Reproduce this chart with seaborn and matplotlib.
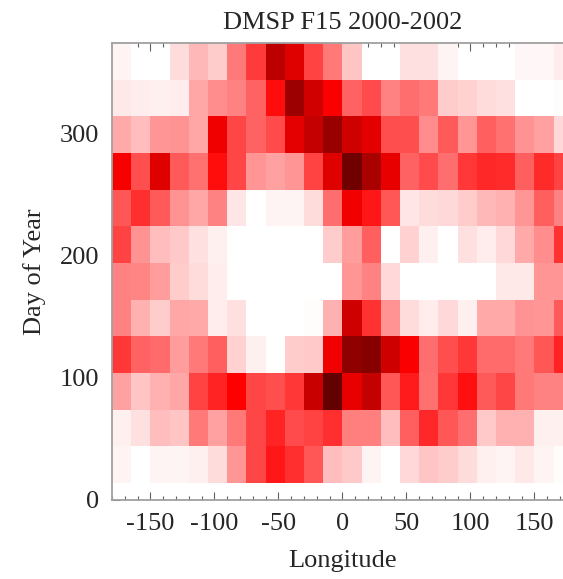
import numpy as np
import pandas as pd
import matplotlib
matplotlib.use("Agg")
import matplotlib.pyplot as plt
from matplotlib.colors import LinearSegmentedColormap
from matplotlib.ticker import MultipleLocator
import seaborn as sns

# ---- data ----
# longitude bin centres (15 deg bins) and day-of-year bin centres (30 day bins)
lon_centres = [-172.5, -157.5, -142.5, -127.5, -112.5, -97.5, -82.5, -67.5,
               -52.5, -37.5, -22.5, -7.5, 7.5, 22.5, 37.5, 52.5,
               67.5, 82.5, 97.5, 112.5, 127.5, 142.5, 157.5, 172.5]
day_centres = [29, 59, 89, 119, 149, 179, 209, 239, 269, 299, 329, 359]
lon_edges = [-180, -165, -150, -135, -120, -105, -90, -75, -60, -45, -30, -15, 0,
             15, 30, 45, 60, 75, 90, 105, 120, 135, 150, 165, 180]
day_edges = [14, 44, 74, 104, 134, 164, 194, 224, 254, 284, 314, 344, 374]

# relative intensity per longitude bin, one list per day bin
day_029 = [0.03, 0.00, 0.03, 0.03, 0.04, 0.09, 0.27, 0.47, 0.59, 0.53, 0.43, 0.17,
           0.14, 0.03, 0.00, 0.10, 0.15, 0.13, 0.09, 0.04, 0.03, 0.06, 0.03, 0.01]
day_059 = [0.04, 0.08, 0.17, 0.15, 0.34, 0.24, 0.34, 0.47, 0.56, 0.46, 0.48, 0.53,
           0.33, 0.33, 0.17, 0.41, 0.55, 0.43, 0.37, 0.14, 0.20, 0.20, 0.04, 0.04]
day_089 = [0.24, 0.15, 0.20, 0.23, 0.48, 0.56, 0.65, 0.47, 0.45, 0.51, 0.77, 1.00,
           0.70, 0.78, 0.43, 0.58, 0.36, 0.51, 0.61, 0.42, 0.47, 0.34, 0.32, 0.32]
day_119 = [0.51, 0.40, 0.38, 0.25, 0.34, 0.41, 0.12, 0.04, 0.00, 0.13, 0.14, 0.68,
           0.90, 0.92, 0.76, 0.66, 0.37, 0.45, 0.51, 0.38, 0.38, 0.34, 0.43, 0.56]
day_149 = [0.32, 0.20, 0.13, 0.23, 0.22, 0.05, 0.08, 0.00, 0.00, 0.00, 0.01, 0.20,
           0.76, 0.52, 0.28, 0.09, 0.05, 0.10, 0.04, 0.22, 0.22, 0.28, 0.27, 0.42]
day_179 = [0.32, 0.31, 0.25, 0.13, 0.09, 0.05, 0.00, 0.00, 0.00, 0.00, 0.00, 0.00,
           0.27, 0.32, 0.10, 0.00, 0.00, 0.00, 0.00, 0.00, 0.06, 0.06, 0.27, 0.27]
day_209 = [0.48, 0.28, 0.17, 0.14, 0.08, 0.04, 0.00, 0.00, 0.00, 0.00, 0.00, 0.13,
           0.25, 0.41, 0.00, 0.12, 0.04, 0.00, 0.08, 0.05, 0.10, 0.22, 0.29, 0.52]
day_239 = [0.43, 0.53, 0.42, 0.28, 0.23, 0.32, 0.07, 0.00, 0.03, 0.03, 0.09, 0.37,
           0.68, 0.59, 0.43, 0.07, 0.09, 0.10, 0.13, 0.18, 0.20, 0.27, 0.41, 0.32]
day_269 = [0.67, 0.45, 0.72, 0.42, 0.36, 0.62, 0.47, 0.27, 0.24, 0.27, 0.48, 0.72,
           0.97, 0.84, 0.70, 0.40, 0.46, 0.37, 0.51, 0.55, 0.54, 0.41, 0.54, 0.48]
day_299 = [0.22, 0.17, 0.27, 0.28, 0.23, 0.68, 0.47, 0.40, 0.46, 0.71, 0.78, 0.88,
           0.76, 0.71, 0.45, 0.45, 0.29, 0.42, 0.27, 0.41, 0.36, 0.28, 0.24, 0.10]
day_329 = [0.06, 0.05, 0.04, 0.05, 0.23, 0.29, 0.32, 0.40, 0.62, 0.87, 0.75, 0.66,
           0.40, 0.46, 0.32, 0.37, 0.34, 0.13, 0.12, 0.09, 0.08, 0.00, 0.00, 0.01]
day_359 = [0.03, 0.00, 0.00, 0.09, 0.18, 0.13, 0.34, 0.50, 0.80, 0.72, 0.48, 0.34,
           0.15, 0.00, 0.00, 0.08, 0.08, 0.03, 0.00, 0.00, 0.00, 0.02, 0.02, 0.05]

x_ticks = [-150, -100, -50, 0, 50, 100, 150]
y_ticks = [0, 100, 200, 300]

rows = [day_029, day_059, day_089, day_119, day_149, day_179,
        day_209, day_239, day_269, day_299, day_329, day_359]

records = []
for d, row in zip(day_centres, rows):
    for lon, v in zip(lon_centres, row):
        records.append((lon, d, v))
df = pd.DataFrame(records, columns=["lon", "day", "value"])

# ---- style ----
sns.set_theme(style="ticks")
plt.rcParams["font.family"] = ["Liberation Serif", "DejaVu Serif"]
plt.rcParams["axes.unicode_minus"] = False

cmap = LinearSegmentedColormap.from_list(
    "whitered", [(0.0, (1, 1, 1)), (0.65, (1, 0, 0)), (1.0, (0.39, 0, 0))])

fig = plt.figure(figsize=(5.63, 5.79), dpi=100)
ax = fig.add_axes([112 / 563, 79 / 579, 460.8 / 563, 457 / 579])

sns.histplot(data=df, x="lon", y="day", weights="value",
             bins=[lon_edges, day_edges], cmap=cmap, vmin=0, vmax=1,
             ax=ax)

ax.set_xlim(-180, 180)
ax.set_ylim(0, 374)
ax.set_xticks(x_ticks)
ax.set_yticks(y_ticks)
ax.xaxis.set_minor_locator(MultipleLocator(10))
ax.yaxis.set_minor_locator(MultipleLocator(20))
ax.grid(False)

fs = 19
ax.tick_params(which="both", direction="in", top=True, right=True,
               color="#606060", width=0.8)
ax.tick_params(which="major", length=6, labelsize=fs)
ax.tick_params(which="minor", length=3)
ax.tick_params(axis="x", which="major", pad=9)
ax.tick_params(axis="y", which="major", pad=9)
for s in ax.spines.values():
    s.set_color("#a0a0a0")
    s.set_linewidth(1.3)

ax.set_xlabel("Longitude", fontsize=fs, labelpad=11)
ax.set_ylabel("Day of Year", fontsize=fs, labelpad=10)
ax.set_title("DMSP F15 2000-2002", fontsize=fs, pad=10)

fig.savefig("out.png", dpi=100)
